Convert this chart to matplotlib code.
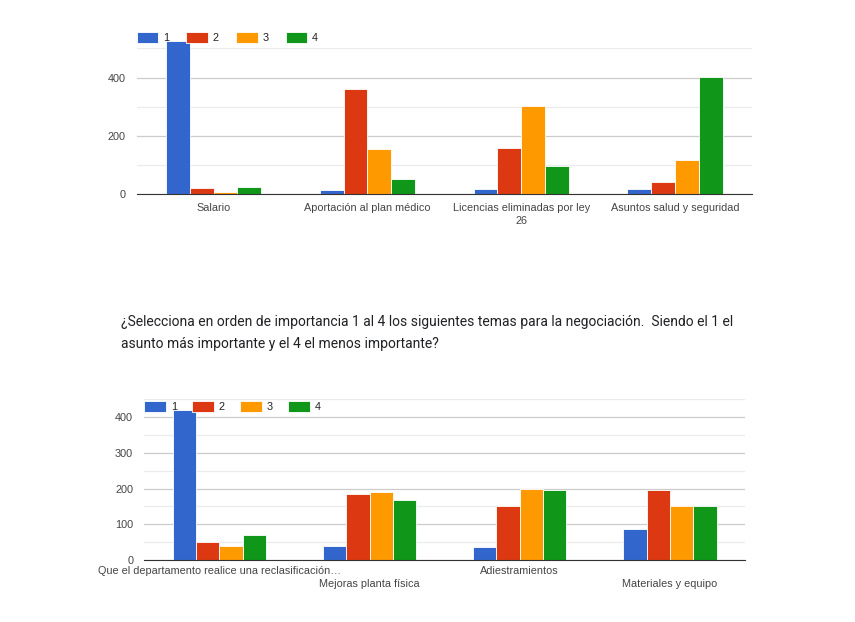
import matplotlib.pyplot as plt
import numpy as np

# Google Forms style summary charts (ranking 1-4 for each topic)
series = ["1", "2", "3", "4"]
colors = ["#3366CC", "#DC3912", "#FF9900", "#109618"]

top_cats = ["Salario", "Aportación al plan médico",
            "Licencias eliminadas por ley\n26", "Asuntos salud y seguridad"]
top_1 = [525, 14, 19, 19]
top_2 = [23, 359, 158, 42]
top_3 = [8, 154, 303, 116]
top_4 = [26, 54, 97, 402]

bot_cats = ["Que el departamento realice una reclasificación…",
            "Mejoras planta física", "Adiestramientos", "Materiales y equipo"]
bot_1 = [421, 40, 36, 86]
bot_2 = [51, 184, 152, 195]
bot_3 = [40, 189, 200, 152]
bot_4 = [71, 168, 195, 151]

title = ("¿Selecciona en orden de importancia 1 al 4 los siguientes temas para la negociación.  Siendo el 1 el\n"
         "asunto más importante y el 4 el menos importante?")

plt.rcParams['font.family'] = ['Liberation Sans', 'DejaVu Sans']
FS = 7.8


def bar_chart(ax, cats, data, ymax, major, minor, legend_x, legend_y, colsp):
    x = np.arange(len(cats))
    w = 0.155
    for i, vals in enumerate(data):
        ax.bar(x + (i - 1.5) * w, vals, w, color=colors[i], edgecolor="white",
               linewidth=0.6, label=series[i], clip_on=False, zorder=3)
    ax.set_xlim(-0.5, len(cats) - 0.5)
    ax.set_ylim(0, ymax)
    ax.set_yticks(major)
    ax.set_yticks(minor, minor=True)
    ax.grid(axis="y", which="major", color="#cccccc", linewidth=0.9, zorder=0)
    ax.grid(axis="y", which="minor", color="#ebebeb", linewidth=0.9, zorder=0)
    ax.set_xticks(x)
    ax.set_xticklabels(cats, linespacing=1.4)
    ax.tick_params(axis="both", which="both", length=0, labelsize=FS,
                   labelcolor="#444444")
    ax.tick_params(axis="y", pad=8)
    ax.tick_params(axis="x", pad=6)
    for s in ["top", "right", "left"]:
        ax.spines[s].set_visible(False)
    ax.spines["bottom"].set_color("#333333")
    ax.spines["bottom"].set_zorder(4)
    ax.legend(loc="lower left", bbox_to_anchor=(legend_x, legend_y), ncol=4,
              frameon=False, fontsize=FS, handlelength=2.0, handleheight=1.25,
              handletextpad=0.45, columnspacing=colsp, borderaxespad=0,
              borderpad=0, labelcolor="#222222")


fig = plt.figure(figsize=(8.55, 6.22), dpi=100)

ax1 = fig.add_axes([0.1599, 0.6876, 0.7197, 0.2347])
bar_chart(ax1, top_cats, [top_1, top_2, top_3, top_4], 500,
          [0, 200, 400], [100, 300, 500], 0.0, 1.035, 1.57)

ax2 = fig.add_axes([0.1688, 0.0997, 0.7026, 0.2584])
bot_labels = [c if i % 2 == 0 else "\n" + c for i, c in enumerate(bot_cats)]
bar_chart(ax2, bot_labels, [bot_1, bot_2, bot_3, bot_4], 450,
          [0, 100, 200, 300, 400], [50, 150, 250, 350, 450], 0.0, 0.92, 1.42)
ax2.tick_params(axis="x", pad=4)

fig.text(121 / 855, 1 - 315 / 622, title, family="Roboto", fontsize=10.0,
         color="#202124", va="top", ha="left", linespacing=1.75)

fig.savefig("out.png", dpi=100)
